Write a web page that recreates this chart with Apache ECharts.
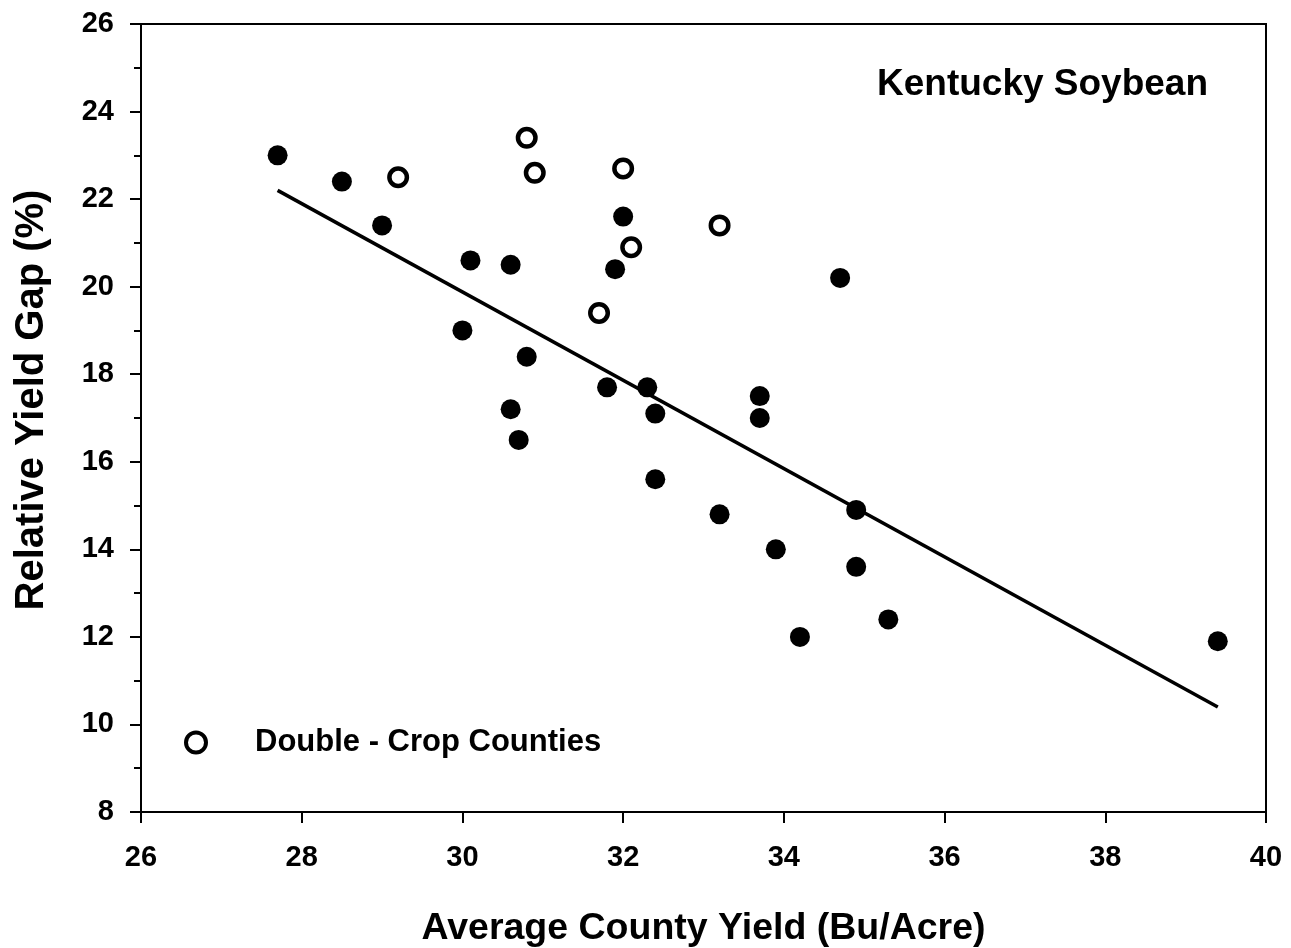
<!DOCTYPE html>
<html>
<head>
<meta charset="utf-8">
<script src="https://cdn.jsdelivr.net/npm/echarts@6/dist/echarts.min.js"></script>
<style>html,body{margin:0;padding:0;background:#fff}#c{width:1291px;height:948px}</style>
</head>
<body>
<div id="c"></div>
<script>
const titleText = 'Kentucky Soybean';
const xTitle = 'Average County Yield (Bu/Acre)';
const yTitle = 'Relative Yield Gap (%)';
const legendLabel = 'Double - Crop Counties';

const singleCropX = [27.7, 28.5, 29.0, 30.1, 30.6, 30.0, 30.8, 30.6, 30.7, 31.8, 32.3, 32.4, 32.4, 32.0, 31.9, 34.7, 33.7, 33.7, 33.2, 33.9, 34.9, 34.9, 34.2, 35.3, 39.4];
const singleCropY = [23.0, 22.4, 21.4, 20.6, 20.5, 19.0, 18.4, 17.2, 16.5, 17.7, 17.7, 17.1, 15.6, 21.6, 20.4, 20.2, 17.5, 17.0, 14.8, 14.0, 14.9, 13.6, 12.0, 12.4, 11.9];

const doubleCropX = [29.2, 30.8, 30.9, 32.0, 32.1, 31.7, 33.2];
const doubleCropY = [22.5, 23.4, 22.6, 22.7, 20.9, 19.4, 21.4];

const fitX = [27.7, 39.4];
const fitY = [22.2, 10.4];

const xTicks = [26, 28, 30, 32, 34, 36, 38, 40];
const yTicks = [8, 10, 12, 14, 16, 18, 20, 22, 24, 26];

const zip = (a, b) => a.map((v, i) => [v, b[i]]);
const FONT = '"Liberation Sans", Arial, sans-serif';

const chart = echarts.init(document.getElementById('c'), null, {renderer: 'canvas'});
chart.setOption({
  animation: false,
  backgroundColor: '#fff',
  title: {
    text: titleText,
    left: 877, top: 66, padding: 0,
    textStyle: {fontFamily: FONT, fontSize: 37, fontWeight: 'bold', color: '#000'}
  },
  legend: {
    data: [legendLabel],
    left: 184, top: 727, padding: 0,
    itemWidth: 20, itemHeight: 20,
    itemStyle: {color: '#fff', borderColor: '#000', borderWidth: 4},
    textStyle: {fontFamily: FONT, fontSize: 31, fontWeight: 'bold', color: '#000', padding: [2, 0, 0, 44]}
  },
  grid: {
    left: 141, top: 24, right: 25, bottom: 136,
    containLabel: false, outerBoundsMode: 'none',
    show: true, borderColor: '#000', borderWidth: 2, backgroundColor: 'transparent'
  },
  xAxis: {
    type: 'value', min: xTicks[0], max: xTicks[xTicks.length - 1], interval: 2,
    name: xTitle, nameLocation: 'middle', nameGap: 98,
    nameTextStyle: {fontFamily: FONT, fontSize: 37.5, fontWeight: 'bold', color: '#000'},
    axisLine: {show: true, lineStyle: {color: '#000', width: 2}},
    axisTick: {show: true, inside: false, length: 11, lineStyle: {color: '#000', width: 2}},
    axisLabel: {margin: 31, fontFamily: FONT, fontSize: 29, fontWeight: 'bold', color: '#000'},
    splitLine: {show: false}
  },
  yAxis: {
    type: 'value', min: yTicks[0], max: yTicks[yTicks.length - 1], interval: 2,
    axisLine: {show: true, lineStyle: {color: '#000', width: 2}},
    axisTick: {show: true, inside: false, length: 11, lineStyle: {color: '#000', width: 2}},
    minorTick: {show: true, splitNumber: 2, length: 7, lineStyle: {color: '#000', width: 2}},
    axisLabel: {margin: 27, fontFamily: FONT, fontSize: 29, fontWeight: 'bold', color: '#000'},
    splitLine: {show: false}
  },
  graphic: [{
    type: 'text',
    x: 32, y: 400, rotation: Math.PI / 2,
    style: {
      text: yTitle, fontFamily: FONT, fontSize: 40, fontWeight: 'bold', fill: '#000',
      align: 'center', verticalAlign: 'middle'
    }
  }],
  series: [
    {
      name: 'fit', type: 'line', data: zip(fitX, fitY), symbol: 'none',
      lineStyle: {color: '#000', width: 3.5}, z: 1, silent: true
    },
    {
      name: 'Single', type: 'scatter', data: zip(singleCropX, singleCropY),
      symbol: 'circle', symbolSize: 20,
      itemStyle: {color: '#000', opacity: 1}, z: 3
    },
    {
      name: legendLabel, type: 'scatter', data: zip(doubleCropX, doubleCropY),
      symbol: 'circle', symbolSize: 17.5,
      itemStyle: {color: '#fff', borderColor: '#000', borderWidth: 4.5, opacity: 1}, z: 4
    }
  ]
});
</script>
</body>
</html>
